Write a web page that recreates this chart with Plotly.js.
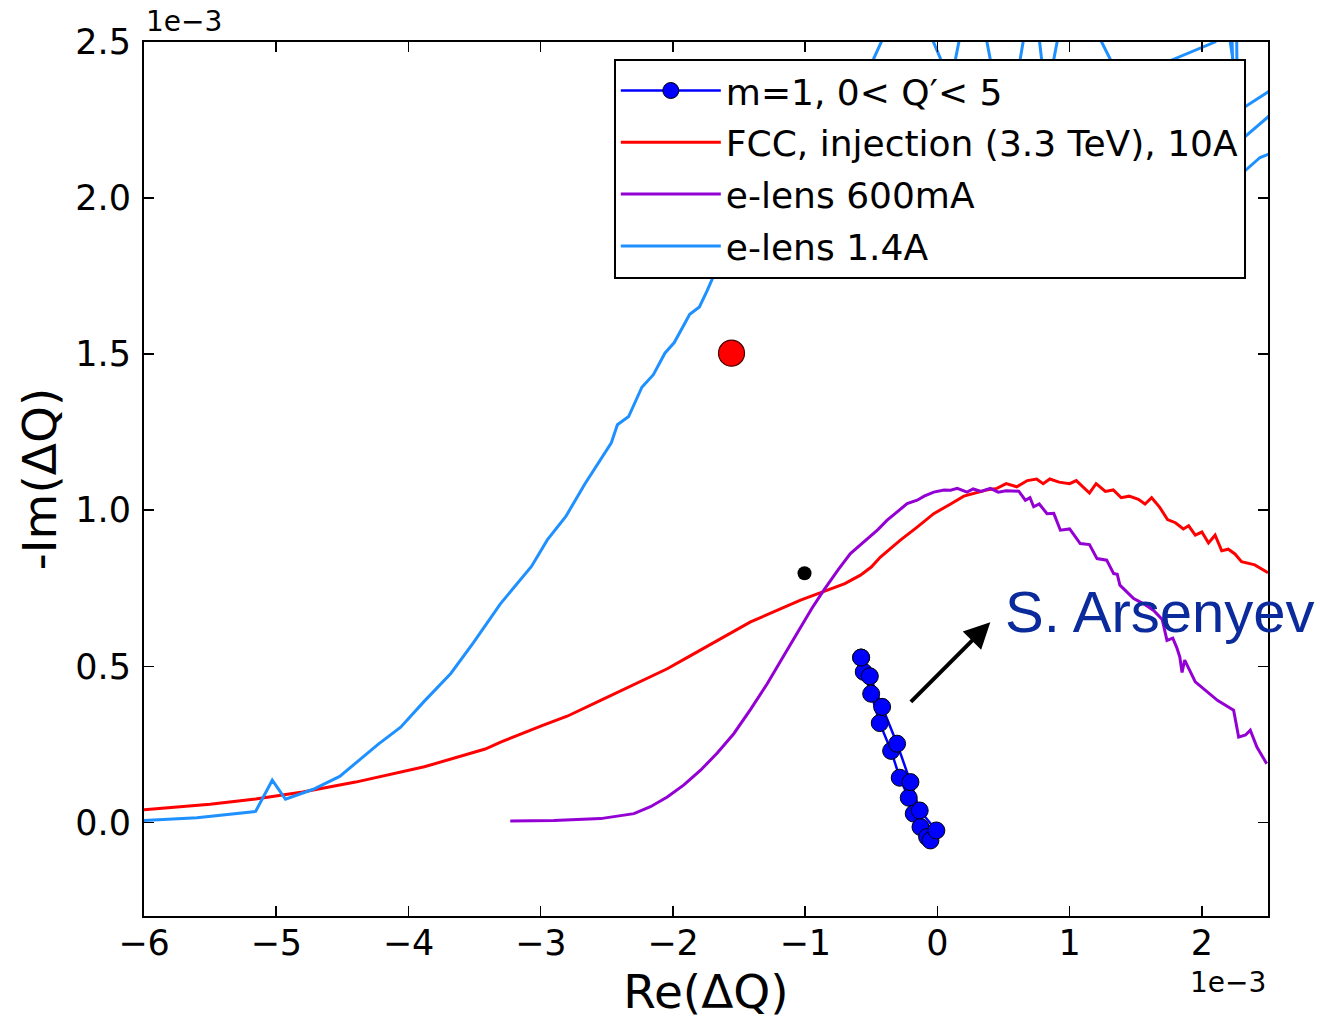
<!DOCTYPE html>
<html>
<head>
<meta charset="utf-8">
<script src="https://cdn.plot.ly/plotly-3.0.1.min.js"></script>
<style>html,body{margin:0;padding:0;background:#fff;}#chart{width:1320px;height:1019px;}</style>
</head>
<body>
<div id="chart"></div>
<script>
// Values are in units of 1e-3
const mode1_re = [-0.577, -0.557, -0.501, -0.436, -0.350, -0.285, -0.217, -0.179, -0.128, -0.078, -0.053, -0.008, -0.134, -0.204, -0.305, -0.418, -0.511, -0.577];
const mode1_im = [0.528, 0.482, 0.412, 0.318, 0.229, 0.143, 0.079, 0.028, -0.015, -0.047, -0.058, -0.026, 0.038, 0.129, 0.252, 0.370, 0.468, 0.528];

const fcc_re = [-6.0, -5.5, -5.156, -4.8, -4.4, -4.059, -3.88, -3.42, -3.303, -2.99, -2.8, -2.547, -2.28, -2.043, -1.9, -1.413, -1.035, -0.834, -0.7, -0.582, -0.5, -0.431, -0.28, -0.153, -0.028, 0.1, 0.2, 0.37, 0.45, 0.52, 0.6, 0.68, 0.75, 0.8, 0.85, 0.92, 1.0, 1.05, 1.1, 1.15, 1.2, 1.27, 1.33, 1.39, 1.45, 1.52, 1.57, 1.62, 1.68, 1.74, 1.8, 1.86, 1.9, 1.95, 2.0, 2.05, 2.1, 2.15, 2.2, 2.25, 2.3, 2.4, 2.5];
const fcc_im = [0.040, 0.058, 0.075, 0.097, 0.129, 0.161, 0.178, 0.235, 0.257, 0.310, 0.340, 0.391, 0.444, 0.492, 0.526, 0.642, 0.712, 0.744, 0.765, 0.792, 0.818, 0.850, 0.904, 0.946, 0.989, 1.020, 1.045, 1.065, 1.070, 1.085, 1.075, 1.095, 1.100, 1.085, 1.100, 1.090, 1.085, 1.095, 1.075, 1.055, 1.085, 1.060, 1.065, 1.040, 1.045, 1.035, 1.020, 1.040, 1.010, 0.970, 0.960, 0.940, 0.950, 0.920, 0.930, 0.895, 0.920, 0.870, 0.875, 0.860, 0.835, 0.825, 0.800];

const elens600_re = [-3.23, -2.9, -2.547, -2.295, -2.17, -2.043, -1.917, -1.791, -1.665, -1.54, -1.413, -1.287, -1.162, -1.035, -0.95, -0.859, -0.75, -0.658, -0.531, -0.45, -0.38, -0.3, -0.229, -0.153, -0.1, -0.028, 0.05, 0.1, 0.15, 0.224, 0.27, 0.33, 0.4, 0.46, 0.52, 0.615, 0.665, 0.7, 0.728, 0.77, 0.829, 0.88, 0.93, 1.0, 1.08, 1.15, 1.207, 1.28, 1.333, 1.36, 1.38, 1.484, 1.56, 1.635, 1.7, 1.736, 1.78, 1.81, 1.833, 1.85, 1.87, 1.95, 2.09, 2.12, 2.24, 2.278, 2.33, 2.366, 2.416, 2.49];
const elens600_im = [0.004, 0.006, 0.012, 0.028, 0.050, 0.081, 0.120, 0.167, 0.222, 0.284, 0.362, 0.444, 0.534, 0.625, 0.685, 0.744, 0.810, 0.861, 0.908, 0.938, 0.968, 0.995, 1.021, 1.032, 1.045, 1.058, 1.065, 1.064, 1.070, 1.058, 1.068, 1.060, 1.070, 1.058, 1.062, 1.061, 1.032, 1.040, 1.011, 1.020, 0.989, 0.990, 0.936, 0.940, 0.893, 0.890, 0.845, 0.840, 0.797, 0.795, 0.760, 0.717, 0.700, 0.679, 0.650, 0.583, 0.590, 0.560, 0.530, 0.480, 0.520, 0.450, 0.402, 0.390, 0.359, 0.273, 0.280, 0.295, 0.241, 0.188];

const elens14_re = [-6.0, -5.6, -5.156, -5.03, -4.93, -4.72, -4.52, -4.23, -4.059, -3.885, -3.68, -3.51, -3.305, -3.07, -2.95, -2.81, -2.665, -2.58, -2.466, -2.42, -2.335, -2.235, -2.148, -2.061, -1.99, -1.873, -1.8, -1.742, -1.7, -1.6, -1.45, -1.25, -1.0, -0.7, -0.5, -0.36, -0.15, 0.05, 0.12, 0.2, 0.32, 0.42, 0.6, 0.68, 0.74, 0.8, 0.86, 0.95, 1.1, 1.36, 1.6, 1.76, 2.1, 2.18, 2.25, 2.28, 2.5, 2.6, 2.6, 2.22, 2.24, 2.28, 2.5, 2.6, 2.6, 2.26, 2.27, 2.28, 2.44, 2.5, 2.6];
const elens14_im = [0.006, 0.015, 0.035, 0.135, 0.074, 0.106, 0.147, 0.250, 0.305, 0.386, 0.477, 0.575, 0.700, 0.820, 0.905, 0.980, 1.085, 1.140, 1.216, 1.274, 1.300, 1.394, 1.434, 1.503, 1.537, 1.628, 1.651, 1.703, 1.744, 1.840, 1.980, 2.140, 2.280, 2.380, 2.430, 2.560, 2.620, 2.420, 2.410, 2.580, 2.620, 2.400, 2.380, 2.580, 2.620, 2.400, 2.400, 2.600, 2.620, 2.400, 2.380, 2.440, 2.500, 2.600, 2.400, 2.280, 2.340, 2.380, 2.650, 2.650, 2.300, 2.180, 2.260, 2.300, 2.650, 2.650, 2.200, 2.070, 2.130, 2.140, 2.150];

const bigDot_re = [-1.557];
const bigDot_im = [1.503];
const smallDot_re = [-1.005];
const smallDot_im = [0.798];

const xTicks = [-6, -5, -4, -3, -2, -1, 0, 1, 2];
const yTicks = [0.0, 0.5, 1.0, 1.5, 2.0, 2.5];

const F = 'DejaVu Sans, sans-serif';

const traces = [
  {x: mode1_re, y: mode1_im, type: 'scatter', mode: 'lines+markers', name: 'm=1, 0< Q\u2032< 5',
   line: {color: '#0000ff', width: 2.5},
   marker: {color: '#0000ff', size: 17, line: {color: '#000', width: 1}}, legendgroup: 'a'},
  {x: fcc_re, y: fcc_im, type: 'scatter', mode: 'lines', name: 'FCC, injection (3.3 TeV), 10A',
   line: {color: '#ff0000', width: 3}, legendgroup: 'b'},
  {x: elens600_re, y: elens600_im, type: 'scatter', mode: 'lines', name: 'e-lens 600mA',
   line: {color: '#9400d3', width: 3}, legendgroup: 'c'},
  {x: elens14_re, y: elens14_im, type: 'scatter', mode: 'lines', name: 'e-lens 1.4A',
   line: {color: '#1e90ff', width: 3}, legendgroup: 'd'},
  {x: bigDot_re, y: bigDot_im, type: 'scatter', mode: 'markers', showlegend: false,
   marker: {color: '#ff0000', size: 26, line: {color: '#400', width: 1.2}}},
  {x: smallDot_re, y: smallDot_im, type: 'scatter', mode: 'markers', showlegend: false,
   marker: {color: '#000', size: 14}}
];

const layout = {
  width: 1320, height: 1019,
  margin: {l: 144, r: 52, t: 42, b: 103},
  paper_bgcolor: '#fff', plot_bgcolor: '#fff',
  font: {family: F, color: '#000', size: 35},
  showlegend: true,
  legend: {
    x: 0.418, y: 0.981, xanchor: 'left', yanchor: 'top',
    bgcolor: '#fff', bordercolor: '#000', borderwidth: 2,
    font: {family: F, size: 36, color: '#000'},
    traceorder: 'grouped', tracegroupgap: 2, itemwidth: 100
  },
  xaxis: {
    range: [-6, 2.5], tickvals: xTicks, ticks: 'inside', ticklen: 10, tickwidth: 1.5, tickcolor: '#000',
    showline: true, linecolor: '#000', linewidth: 2, mirror: 'ticks', showgrid: false, zeroline: false,
    tickfont: {family: F, size: 35}, ticklabelstandoff: -5,
    title: {text: 'Re(\u0394Q)', font: {family: F, size: 47}, standoff: 18}
  },
  yaxis: {
    range: [-0.3, 2.5], tickvals: yTicks, tickformat: '.1f', ticks: 'inside', ticklen: 10, tickwidth: 1.5, tickcolor: '#000',
    showline: true, linecolor: '#000', linewidth: 2, mirror: 'ticks', showgrid: false, zeroline: false,
    tickfont: {family: F, size: 35}, ticklabelstandoff: 4,
    title: {text: '-Im(\u0394Q)', font: {family: F, size: 47}, standoff: 4}
  },
  annotations: [
    {xref: 'paper', yref: 'paper', x: 0, y: 1.023, xanchor: 'left', yanchor: 'middle', showarrow: false,
     text: '1e\u22123', font: {family: F, size: 28}},
    {xref: 'paper', yref: 'paper', x: 1, y: -0.076, xanchor: 'right', yanchor: 'middle', showarrow: false,
     text: '1e\u22123', font: {family: F, size: 28}},
    {xref: 'x', yref: 'y', x: 0.40, y: 0.641, axref: 'x', ayref: 'y', ax: -0.212, ay: 0.381,
     showarrow: true, arrowhead: 2, arrowsize: 1.3, arrowwidth: 4, arrowcolor: '#000', text: ''},
    {xref: 'x', yref: 'y', x: 0.499, y: 0.676, xanchor: 'left', yanchor: 'middle', showarrow: false,
     text: 'S. Arsenyev', font: {family: 'Liberation Sans, Arial, sans-serif', size: 58, color: '#0b2a9c'}}
  ]
};

Plotly.newPlot('chart', traces, layout, {displayModeBar: false, staticPlot: true});
</script>
</body>
</html>
